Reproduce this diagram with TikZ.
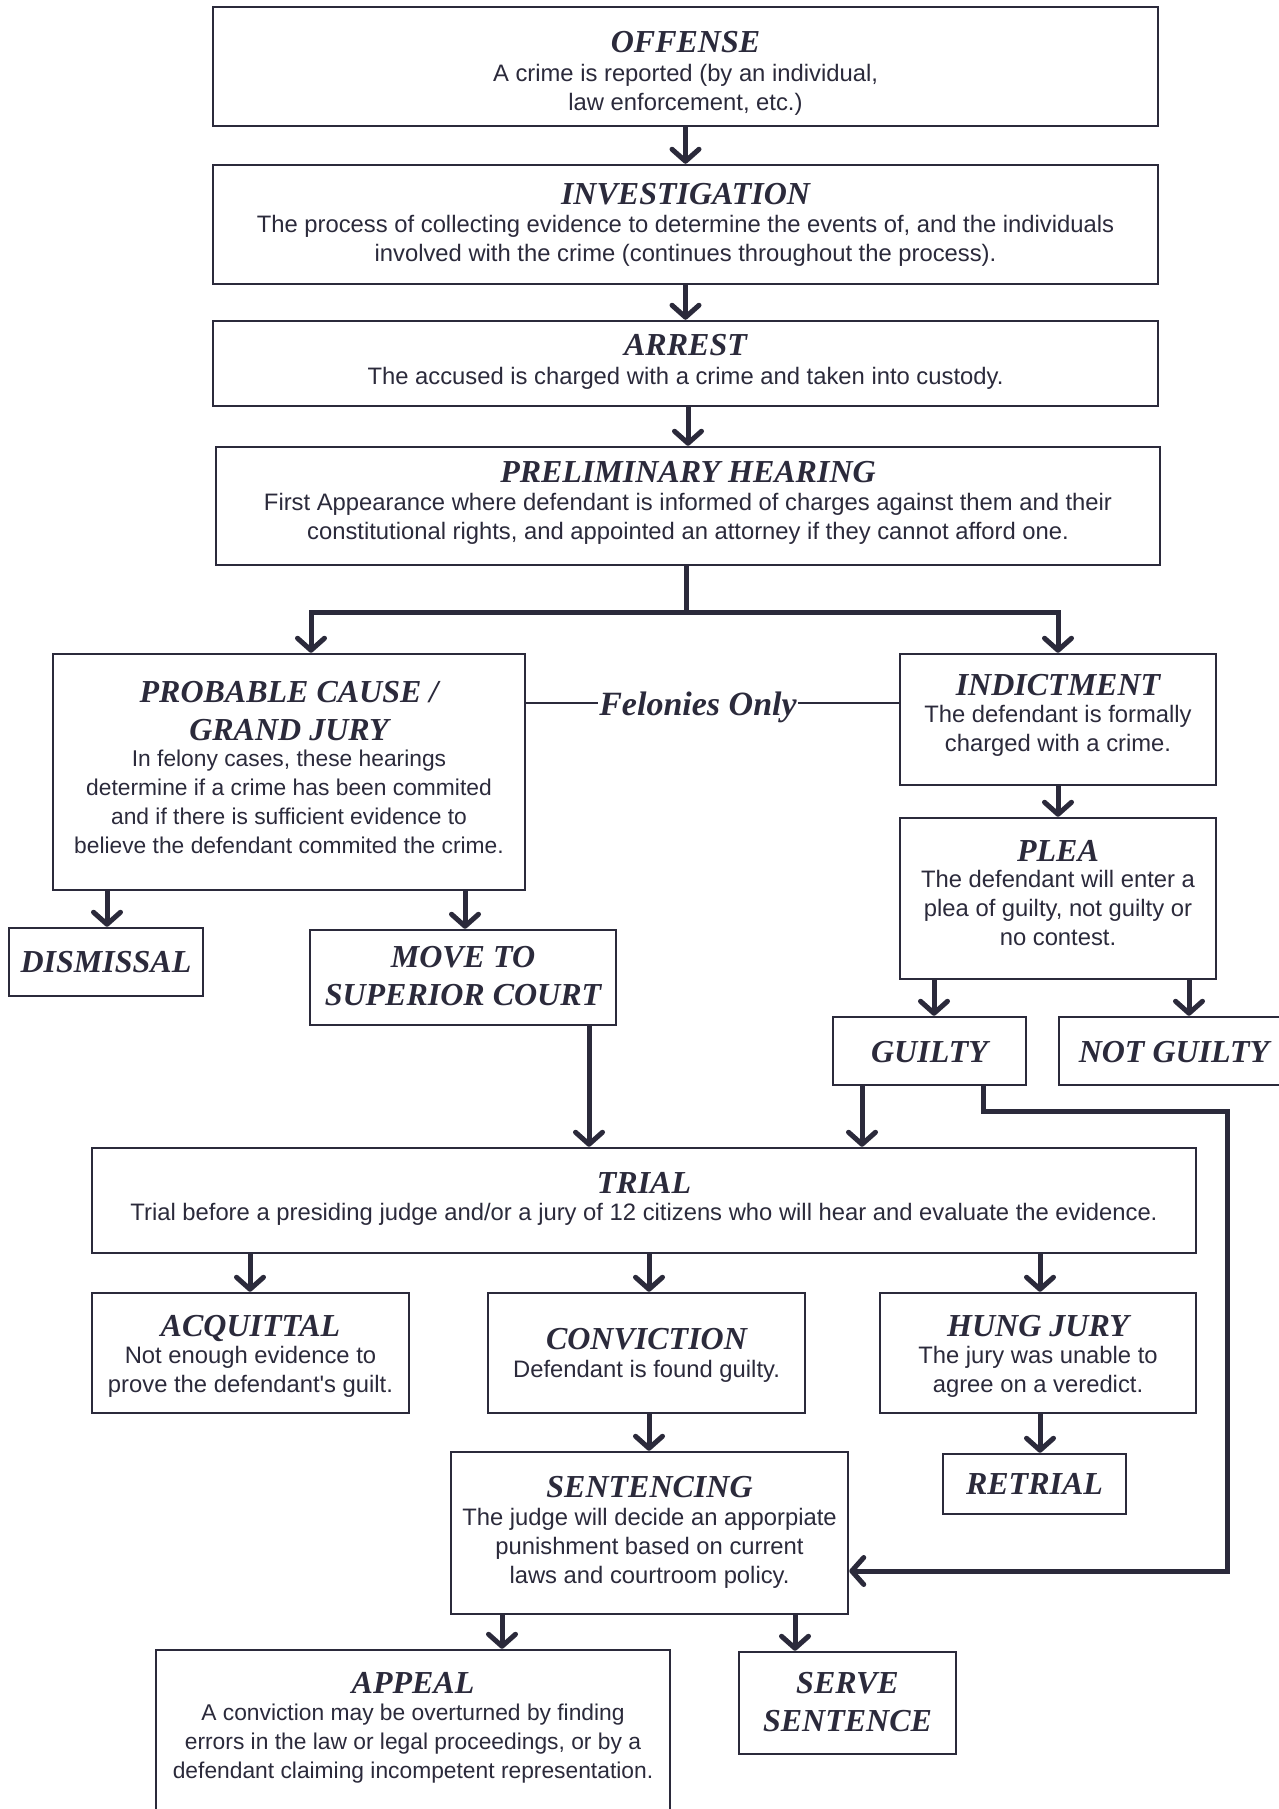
\documentclass[tikz,border=0pt]{standalone}
\usepackage{fontspec}
\setmainfont{Liberation Serif}
\newfontfamily\bodyf{Liberation Sans}
\usetikzlibrary{arrows.meta}
\definecolor{ink}{HTML}{2B2A3B}
\begin{document}
\begin{tikzpicture}[x=1pt,y=-1pt,
  box/.style={draw=ink, line width=2.5pt, inner sep=0pt, rectangle},
  ttl/.style={text=ink, inner sep=0pt, align=center, font=\fontsize{32}{38}\selectfont\bfseries\itshape},
  bdy/.style={text=ink, inner sep=0pt, align=center, font=\bodyf\fontsize{23.8}{29}\selectfont},
  bdyc/.style={bdy, font=\bodyf\fontsize{22.8}{29}\selectfont},
  arr/.style={draw=ink, line width=5pt, line join=miter, -{Straight Barb[length=12pt,width=27pt,round]}},
  thinln/.style={draw=ink, line width=2pt}]
\useasboundingbox (0,0) rectangle (1279,1809);
\fill[white] (0,0) rectangle (1279,1809);

% boxes
\node[box, minimum width=945, minimum height=119] (offense) at (685.5,66.5) {};
\node[box, minimum width=945, minimum height=119] (invest) at (685.5,224.5) {};
\node[box, minimum width=945, minimum height=85] (arrest) at (685.5,363.5) {};
\node[box, minimum width=944, minimum height=118] (prelim) at (688,506) {};
\node[box, minimum width=472, minimum height=236] (pc) at (289,772) {};
\node[box, minimum width=316, minimum height=131] (indict) at (1058,719.5) {};
\node[box, minimum width=316, minimum height=161] (plea) at (1058,898.5) {};
\node[box, minimum width=194, minimum height=68] (dismiss) at (106,962) {};
\node[box, minimum width=306, minimum height=95] (move) at (463,977.5) {};
\node[box, minimum width=193, minimum height=68] (guilty) at (929.5,1051) {};
\node[box, minimum width=231, minimum height=68] (notguilty) at (1174.5,1051) {};
\node[box, minimum width=1104, minimum height=105] (trial) at (644,1200.5) {};
\node[box, minimum width=317, minimum height=120] (acq) at (250.5,1353) {};
\node[box, minimum width=317, minimum height=120] (conv) at (646.5,1353) {};
\node[box, minimum width=316, minimum height=120] (hung) at (1038,1353) {};
\node[box, minimum width=183, minimum height=60] (retrial) at (1034.5,1484) {};
\node[box, minimum width=397, minimum height=162] (sent) at (649.5,1533) {};
\node[box, minimum width=514, minimum height=180] (appeal) at (413,1740) {};
\node[box, minimum width=217, minimum height=102] (serve) at (847.5,1703) {};

% texts (anchor=base is the baseline of the last line)
\node[ttl, anchor=base] (t-off) at (685.5,53) {OFFENSE};
\node[bdy, anchor=base] (b-off) at (685.5,111) {A crime is reported (by an individual,\\law enforcement, etc.)};
\node[ttl, anchor=base] (t-inv) at (685.5,204) {INVESTIGATION};
\node[bdy, anchor=base] (b-inv) at (685.5,261) {The process of collecting evidence to determine the events of, and the individuals\\involved with the crime (continues throughout the process).};
\node[ttl, anchor=base] (t-arr) at (685.5,355) {ARREST};
\node[bdy, anchor=base] (b-arr) at (685.5,384) {The accused is charged with a crime and taken into custody.};
\node[ttl, anchor=base] (t-pre) at (688,482) {PRELIMINARY HEARING};
\node[bdy, anchor=base] (b-pre) at (688,539) {First Appearance where defendant is informed of charges against them and their\\constitutional rights, and appointed an attorney if they cannot afford one.};
\node[ttl, anchor=base] (t-pc) at (289,740) {PROBABLE CAUSE /\\GRAND JURY};
\node[bdyc, anchor=base] (b-pc) at (289,853) {In felony cases, these hearings\\determine if a crime has been commited\\and if there is sufficient evidence to\\believe the defendant commited the crime.};
\node[ttl, anchor=base] (t-ind) at (1058,695) {INDICTMENT};
\node[bdy, anchor=base] (b-ind) at (1058,751) {The defendant is formally\\charged with a crime.};
\node[ttl, anchor=base] (t-plea) at (1058,861) {PLEA};
\node[bdy, anchor=base] (b-plea) at (1058,945) {The defendant will enter a\\plea of guilty, not guilty or\\no contest.};
\node[ttl, anchor=base] (t-dis) at (106,972) {DISMISSAL};
\node[ttl, anchor=base] (t-move) at (463,1005) {MOVE TO\\SUPERIOR COURT};
\node[ttl, anchor=base] (t-gui) at (929.5,1062) {GUILTY};
\node[ttl, anchor=base] (t-ng) at (1174,1062) {NOT GUILTY};
\node[ttl, anchor=base] (t-tri) at (644,1193) {TRIAL};
\node[bdy, anchor=base] (b-tri) at (644,1220) {Trial before a presiding judge and/or a jury of 12 citizens who will hear and evaluate the evidence.};
\node[ttl, anchor=base] (t-acq) at (250.5,1336) {ACQUITTAL};
\node[bdy, anchor=base] (b-acq) at (250.5,1392) {Not enough evidence to\\prove the defendant's guilt.};
\node[ttl, anchor=base] (t-con) at (646.5,1349) {CONVICTION};
\node[bdy, anchor=base] (b-con) at (646.5,1377) {Defendant is found guilty.};
\node[ttl, anchor=base] (t-hung) at (1038,1336) {HUNG JURY};
\node[bdy, anchor=base] (b-hung) at (1038,1392) {The jury was unable to\\agree on a veredict.};
\node[ttl, anchor=base] (t-ret) at (1034.5,1494) {RETRIAL};
\node[ttl, anchor=base] (t-sen) at (649.5,1497) {SENTENCING};
\node[bdy, anchor=base] (b-sen) at (649.5,1583) {The judge will decide an apporpiate\\punishment based on current\\laws and courtroom policy.};
\node[ttl, anchor=base] (t-app) at (413,1693) {APPEAL};
\node[bdyc, anchor=base] (b-app) at (413,1778) {A conviction may be overturned by finding\\errors in the law or legal proceedings, or by a\\defendant claiming incompetent representation.};
\node[ttl, anchor=base] (t-ser) at (847.5,1731) {SERVE\\SENTENCE};
\node[ttl, anchor=base, fill=white, inner xsep=1pt, font=\fontsize{34}{38}\selectfont\bfseries\itshape] (fel) at (698,715) {Felonies Only};

% column coordinates
\coordinate (jn) at (686,612);
\coordinate (cpc) at (311,0);
\coordinate (cdis) at (107,0);
\coordinate (cmv) at (465,0);
\coordinate (cg) at (934,0);
\coordinate (cng) at (1189,0);
\coordinate (cmt) at (589,0);
\coordinate (cgt) at (862,0);
\coordinate (cacq) at (250,0);
\coordinate (ccon) at (649,0);
\coordinate (chung) at (1040,0);
\coordinate (capp) at (502,0);
\coordinate (cser) at (795,0);
\coordinate (fy) at (0,703);
\coordinate (g1) at (983,1111);
\coordinate (g2) at (1227,1111);
\coordinate (g3) at (1227,1571);

% connectors
\draw[arr] (offense.south) -- (invest.north);
\draw[arr] (invest.south) -- (arrest.north);
\draw[arr] (arrest.south -| prelim.north) -- (prelim.north);
\draw[arr] (prelim.south -| jn) -- (jn) -| (pc.north -| cpc);
\draw[arr] (jn) -| (indict.north);
\draw[thinln] (pc.east |- fy) -- (fel.west |- fy);
\draw[thinln] (fel.east |- fy) -- (indict.west |- fy);
\draw[arr] (indict.south) -- (plea.north);
\draw[arr] (pc.south -| cdis) -- (dismiss.north -| cdis);
\draw[arr] (pc.south -| cmv) -- (move.north -| cmv);
\draw[arr] (plea.south -| cg) -- (guilty.north -| cg);
\draw[arr] (plea.south -| cng) -- (notguilty.north -| cng);
\draw[arr] (move.south -| cmt) -- (trial.north -| cmt);
\draw[arr] (guilty.south -| cgt) -- (trial.north -| cgt);
\draw[arr] (guilty.south -| g1) -- (g1) -- (g2) -- (g3) -- (sent.east |- g3);
\draw[arr] (trial.south -| cacq) -- (acq.north -| cacq);
\draw[arr] (trial.south -| ccon) -- (conv.north -| ccon);
\draw[arr] (trial.south -| chung) -- (hung.north -| chung);
\draw[arr] (hung.south -| chung) -- (retrial.north -| chung);
\draw[arr] (conv.south -| ccon) -- (sent.north -| ccon);
\draw[arr] (sent.south -| capp) -- (appeal.north -| capp);
\draw[arr] (sent.south -| cser) -- (serve.north -| cser);
\end{tikzpicture}
\end{document}
